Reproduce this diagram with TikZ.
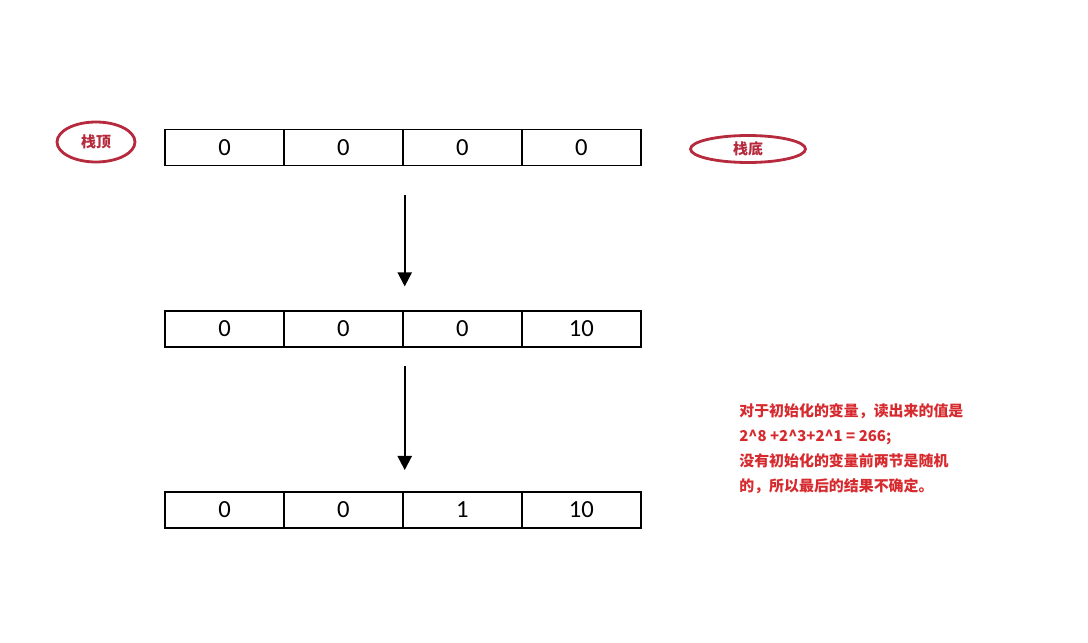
\documentclass[tikz,border=0pt]{standalone}
\usepackage{fontspec}
\usepackage{tikz}
\usepackage{xcolor}
\usetikzlibrary{positioning,shapes.geometric,arrows.meta}
\setmainfont{Carlito}
\newfontfamily\cjk{Noto Sans CJK SC}
\definecolor{darkred}{HTML}{B52A3C}
\definecolor{notered}{HTML}{D62A2E}

\begin{document}
\begin{tikzpicture}[x=0.02cm,y=-0.02cm,
    cell/.style={draw,line width=1pt,outer sep=0pt,minimum width=2.38cm,minimum height=0.72cm,inner sep=0pt,font=\fontsize{14}{16}\selectfont},
    tag/.style={ellipse,draw=darkred,line width=1.6pt,text=darkred,inner sep=0pt,font=\cjk\bfseries\fontsize{8.5}{10}\selectfont},
    down/.style={-{Triangle[width=8pt,length=8pt]},line width=1.2pt}]
            \useasboundingbox (0,0) rectangle (1088,642);
            % stack, first state
            \node[cell] (a1) at (224.5,147.5) {0};
            \node[cell,right=0pt of a1] (a2) {0};
            \node[cell,right=0pt of a2] (a3) {0};
            \node[cell,right=0pt of a3] (a4) {0};
            % second state
            \node[cell] (b1) at (224.5,329) {0};
            \node[cell,right=0pt of b1] (b2) {0};
            \node[cell,right=0pt of b2] (b3) {0};
            \node[cell,right=0pt of b3] (b4) {10};
            % third state
            \node[cell] (c1) at (224.5,510) {0};
            \node[cell,right=0pt of c1] (c2) {0};
            \node[cell,right=0pt of c2] (c3) {1};
            \node[cell,right=0pt of c3] (c4) {10};
            \draw[down,shorten <=17pt,shorten >=14pt] ([xshift=1pt]a2.south east) -- ([xshift=1pt]b2.north east);
            \draw[down,shorten <=11pt,shorten >=12.5pt] ([xshift=1pt]b2.south east) -- ([xshift=1pt]c2.north east);
            \node[tag,minimum width=1.56cm,minimum height=0.8cm] (top) at (96,142) {栈顶};
            \node[tag,minimum width=2.3cm,minimum height=0.54cm] (bottom) at (748,149) {栈底};
            \node[anchor=north west,align=left,text=notered,inner sep=0pt,font=\cjk\bfseries\fontsize{8.5}{14.2}\selectfont] (note) at (739,403)
                {对于初始化的变量，读出来的值是\\2\textasciicircum 8 +2\textasciicircum 3+2\textasciicircum 1 = 266;\\没有初始化的变量前两节是随机\\的，所以最后的结果不确定。};
        \end{tikzpicture}
\end{document}
